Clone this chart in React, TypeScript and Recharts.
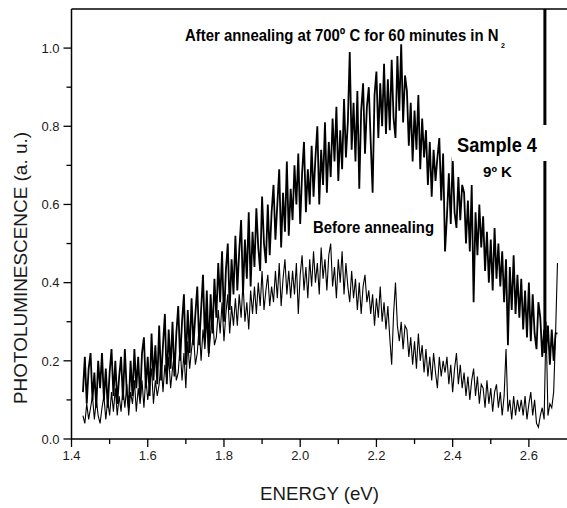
import React from 'react'
import { LineChart, Line, XAxis, YAxis, ReferenceLine } from 'recharts'

// measurement grid (eV)
const energy = [
  1.430, 1.435, 1.440, 1.445, 1.450, 1.455, 1.460, 1.465, 1.470, 1.475,
  1.480, 1.485, 1.490, 1.495, 1.500, 1.505, 1.510, 1.515, 1.520, 1.525,
  1.530, 1.535, 1.540, 1.545, 1.550, 1.555, 1.560, 1.565, 1.570, 1.575,
  1.580, 1.585, 1.590, 1.595, 1.600, 1.605, 1.610, 1.615, 1.620, 1.625,
  1.630, 1.635, 1.640, 1.645, 1.650, 1.655, 1.660, 1.665, 1.670, 1.675,
  1.680, 1.685, 1.690, 1.695, 1.700, 1.705, 1.710, 1.715, 1.720, 1.725,
  1.730, 1.735, 1.740, 1.745, 1.750, 1.755, 1.760, 1.765, 1.770, 1.775,
  1.780, 1.785, 1.790, 1.795, 1.800, 1.805, 1.810, 1.815, 1.820, 1.825,
  1.830, 1.835, 1.840, 1.845, 1.850, 1.855, 1.860, 1.865, 1.870, 1.875,
  1.880, 1.885, 1.890, 1.895, 1.900, 1.905, 1.910, 1.915, 1.920, 1.925,
  1.930, 1.935, 1.940, 1.945, 1.950, 1.955, 1.960, 1.965, 1.970, 1.975,
  1.980, 1.985, 1.990, 1.995, 2.000, 2.005, 2.010, 2.015, 2.020, 2.025,
  2.030, 2.035, 2.040, 2.045, 2.050, 2.055, 2.060, 2.065, 2.070, 2.075,
  2.080, 2.085, 2.090, 2.095, 2.100, 2.105, 2.110, 2.115, 2.120, 2.125,
  2.130, 2.135, 2.140, 2.145, 2.150, 2.155, 2.160, 2.165, 2.170, 2.175,
  2.180, 2.185, 2.190, 2.195, 2.200, 2.205, 2.210, 2.215, 2.220, 2.225,
  2.230, 2.235, 2.240, 2.245, 2.250, 2.255, 2.260, 2.265, 2.270, 2.275,
  2.280, 2.285, 2.290, 2.295, 2.300, 2.305, 2.310, 2.315, 2.320, 2.325,
  2.330, 2.335, 2.340, 2.345, 2.350, 2.355, 2.360, 2.365, 2.370, 2.375,
  2.380, 2.385, 2.390, 2.395, 2.400, 2.405, 2.410, 2.415, 2.420, 2.425,
  2.430, 2.435, 2.440, 2.445, 2.450, 2.455, 2.460, 2.465, 2.470, 2.475,
  2.480, 2.485, 2.490, 2.495, 2.500, 2.505, 2.510, 2.515, 2.520, 2.525,
  2.530, 2.535, 2.540, 2.545, 2.550, 2.555, 2.560, 2.565, 2.570, 2.575,
  2.580, 2.585, 2.590, 2.595, 2.600, 2.605, 2.610, 2.615, 2.620, 2.625,
  2.630, 2.635, 2.640, 2.645, 2.650, 2.655, 2.660, 2.665, 2.670, 2.675,
]

// after annealing at 700 C, 60 min in N2
const afterAnnealing = [
  0.12, 0.21, 0.09, 0.18, 0.22, 0.10, 0.17, 0.08, 0.20, 0.13,
  0.22, 0.10, 0.18, 0.08, 0.17, 0.23, 0.11, 0.20, 0.09, 0.16,
  0.21, 0.10, 0.23, 0.12, 0.08, 0.20, 0.11, 0.23, 0.13, 0.21,
  0.10, 0.22, 0.26, 0.13, 0.21, 0.11, 0.27, 0.15, 0.24, 0.14,
  0.29, 0.15, 0.24, 0.32, 0.14, 0.28, 0.18, 0.30, 0.16, 0.27,
  0.34, 0.20, 0.30, 0.37, 0.19, 0.33, 0.22, 0.36, 0.24, 0.32,
  0.39, 0.24, 0.33, 0.42, 0.25, 0.38, 0.22, 0.37, 0.27, 0.41,
  0.31, 0.45, 0.35, 0.48, 0.30, 0.43, 0.50, 0.33, 0.46, 0.37,
  0.52, 0.38, 0.48, 0.56, 0.37, 0.51, 0.41, 0.58, 0.39, 0.53,
  0.44, 0.59, 0.49, 0.43, 0.62, 0.50, 0.45, 0.60, 0.47, 0.58,
  0.65, 0.51, 0.60, 0.69, 0.49, 0.63, 0.53, 0.71, 0.52, 0.64,
  0.56, 0.70, 0.60, 0.73, 0.55, 0.68, 0.76, 0.58, 0.69, 0.60,
  0.75, 0.62, 0.72, 0.80, 0.60, 0.74, 0.65, 0.81, 0.63, 0.76,
  0.67, 0.82, 0.71, 0.85, 0.66, 0.79, 0.69, 0.87, 0.72, 0.81,
  0.99, 0.74, 0.86, 0.71, 0.89, 0.64, 0.84, 0.91, 0.73, 0.85,
  0.90, 0.76, 0.63, 0.88, 0.94, 0.77, 0.91, 0.80, 0.96, 0.78,
  0.92, 0.79, 0.97, 0.82, 0.77, 0.98, 0.84, 1.01, 0.81, 0.93,
  0.89, 0.75, 0.86, 0.71, 0.84, 0.74, 0.88, 0.69, 0.82, 0.72,
  0.79, 0.65, 0.76, 0.62, 0.74, 0.66, 0.72, 0.77, 0.61, 0.73,
  0.48, 0.57, 0.68, 0.55, 0.72, 0.58, 0.54, 0.67, 0.56, 0.65,
  0.63, 0.50, 0.61, 0.48, 0.65, 0.35, 0.58, 0.47, 0.60, 0.49,
  0.57, 0.43, 0.53, 0.40, 0.51, 0.38, 0.54, 0.41, 0.50, 0.39,
  0.48, 0.35, 0.46, 0.24, 0.44, 0.33, 0.47, 0.32, 0.42, 0.31,
  0.41, 0.28, 0.38, 0.26, 0.40, 0.25, 0.37, 0.27, 0.23, 0.35,
  0.31, 0.21, 0.28, 0.22, 0.29, 0.19, 0.28, 0.20, 0.27, 0.27,
]

const beforeAnnealing = [
  0.06, 0.04, 0.09, 0.05, 0.08, 0.11, 0.05, 0.10, 0.06, 0.04,
  0.08, 0.11, 0.05, 0.10, 0.06, 0.12, 0.07, 0.13, 0.06, 0.11,
  0.07, 0.13, 0.08, 0.14, 0.06, 0.12, 0.09, 0.15, 0.07, 0.13,
  0.09, 0.15, 0.08, 0.16, 0.10, 0.14, 0.18, 0.09, 0.15, 0.11,
  0.14, 0.20, 0.12, 0.19, 0.15, 0.21, 0.13, 0.18, 0.22, 0.15,
  0.17, 0.24, 0.15, 0.22, 0.13, 0.25, 0.18, 0.23, 0.27, 0.19,
  0.22, 0.29, 0.20, 0.28, 0.23, 0.31, 0.21, 0.27, 0.32, 0.24,
  0.26, 0.33, 0.27, 0.35, 0.25, 0.32, 0.37, 0.27, 0.34, 0.29,
  0.36, 0.29, 0.37, 0.31, 0.40, 0.30, 0.35, 0.28, 0.38, 0.32,
  0.39, 0.32, 0.40, 0.34, 0.43, 0.33, 0.38, 0.42, 0.34, 0.39,
  0.35, 0.43, 0.36, 0.45, 0.34, 0.41, 0.46, 0.37, 0.43, 0.36,
  0.43, 0.37, 0.45, 0.32, 0.42, 0.47, 0.38, 0.44, 0.36, 0.46,
  0.39, 0.48, 0.40, 0.45, 0.37, 0.49, 0.41, 0.46, 0.38, 0.47,
  0.50, 0.39, 0.44, 0.36, 0.46, 0.40, 0.48, 0.37, 0.45, 0.39,
  0.35, 0.43, 0.36, 0.41, 0.33, 0.40, 0.32, 0.39, 0.42, 0.35,
  0.38, 0.32, 0.37, 0.29, 0.36, 0.31, 0.39, 0.30, 0.35, 0.28,
  0.34, 0.26, 0.19, 0.32, 0.40, 0.29, 0.25, 0.30, 0.23, 0.29,
  0.28, 0.21, 0.26, 0.19, 0.25, 0.18, 0.27, 0.20, 0.24, 0.17,
  0.23, 0.16, 0.21, 0.15, 0.22, 0.17, 0.13, 0.21, 0.16, 0.20,
  0.17, 0.21, 0.14, 0.19, 0.12, 0.18, 0.22, 0.14, 0.19, 0.13,
  0.17, 0.11, 0.16, 0.10, 0.15, 0.18, 0.11, 0.16, 0.09, 0.14,
  0.13, 0.08, 0.15, 0.09, 0.13, 0.07, 0.12, 0.14, 0.08, 0.12,
  0.06, 0.11, 0.23, 0.07, 0.10, 0.05, 0.11, 0.06, 0.10, 0.07,
  0.10, 0.06, 0.11, 0.05, 0.09, 0.12, 0.06, 0.10, 0.04, 0.03,
  0.06, 0.08, 0.05, 0.30, 0.06, 0.09, 0.08, 0.12, 0.27, 0.45,
]

const xTicks = [1.4, 1.5, 1.6, 1.7, 1.8, 1.9, 2.0, 2.1, 2.2, 2.3, 2.4, 2.5, 2.6]
const yTicks = [0, 0.1, 0.2, 0.3, 0.4, 0.5, 0.6, 0.7, 0.8, 0.9, 1.0]

// the vertical marker line next to "Sample 4"
const markerEnergy = 2.642

const FONT = '"Liberation Sans", Arial, sans-serif'

const rows = energy.map((e, i) => ({ energy: e, after: afterAnnealing[i], before: beforeAnnealing[i] }))

const isMajor = (v: number) => Math.round(v * 10) % 2 === 0

function XTick(props: any) {
  const { x, y, payload } = props
  const major = isMajor(payload.value)
  return (
    <g>
      <line x1={x} x2={x} y1={y} y2={y + (major ? 8 : 5)} stroke="#000" strokeWidth={1.3} />
      {major && (
        <text x={x} y={y + 21} textAnchor="middle" fontSize={13} fontFamily={FONT} fill="#1a1a1a">
          {payload.value.toFixed(1)}
        </text>
      )}
    </g>
  )
}

function YTick(props: any) {
  const { x, y, payload } = props
  const major = isMajor(payload.value)
  return (
    <g>
      <line x1={x - (major ? 8 : 5)} x2={x} y1={y} y2={y} stroke="#000" strokeWidth={1.3} />
      {major && (
        <text x={x - 12} y={y + 4.7} textAnchor="end" fontSize={13} fontFamily={FONT} fill="#1a1a1a">
          {payload.value.toFixed(1)}
        </text>
      )}
    </g>
  )
}

export default function App() {
  return (
    <div style={{ position: 'absolute', left: 0, top: 0, width: 567, height: 508, background: '#fff' }}>
      <LineChart width={567} height={508} data={rows} margin={{ top: 9, right: 0, bottom: 0, left: 0 }}>
        <XAxis
          type="number"
          dataKey="energy"
          domain={[1.4, 2.7]}
          ticks={xTicks}
          interval={0}
          height={69}
          tickSize={0}
          tickMargin={0}
          tickLine={false}
          tick={<XTick />}
          axisLine={{ stroke: '#000', strokeWidth: 1.5 }}
          allowDataOverflow
        />
        <YAxis
          type="number"
          domain={[0, 1.1]}
          ticks={yTicks}
          interval={0}
          width={71.5}
          tickSize={0}
          tickMargin={0}
          tickLine={false}
          tick={<YTick />}
          axisLine={{ stroke: '#000', strokeWidth: 1.5 }}
          allowDataOverflow
        />
        <ReferenceLine y={1.1} stroke="#000" strokeWidth={1.5} />
        <Line
          type="linear"
          dataKey="before"
          stroke="#000"
          strokeWidth={1.1}
          dot={false}
          isAnimationActive={false}
        />
        <Line
          type="linear"
          dataKey="after"
          stroke="#000"
          strokeWidth={1.8}
          dot={false}
          isAnimationActive={false}
        />
        <ReferenceLine
          segment={[{ x: markerEnergy, y: 0.22 }, { x: markerEnergy, y: 1.1 }]}
          stroke="#000"
          strokeWidth={3}
        />
      </LineChart>
      <svg
        width={567}
        height={508}
        style={{ position: 'absolute', left: 0, top: 0, pointerEvents: 'none' }}
        fontFamily={FONT}
      >
        <text x={185} y={41} fontSize={17} fontWeight="bold" textLength={320} lengthAdjust="spacingAndGlyphs">
          After annealing at 700º C for 60 minutes in N
          <tspan fontSize={8} dx={3} dy={7}>2</tspan>
        </text>
        <rect x={452} y={125} width={100} height={36} fill="#fff" />
        <text x={457} y={152} fontSize={20} fontWeight="bold" textLength={80} lengthAdjust="spacingAndGlyphs">
          Sample 4
        </text>
        <text x={483} y={177} fontSize={14} fontWeight="bold" textLength={29} lengthAdjust="spacingAndGlyphs">
          9º K
        </text>
        <text x={313} y={233} fontSize={16} fontWeight="bold" textLength={121} lengthAdjust="spacingAndGlyphs">
          Before annealing
        </text>
        <text x={319.5} y={500} fontSize={18.5} textAnchor="middle" fill="#1a1a1a" textLength={119} lengthAdjust="spacingAndGlyphs">
          ENERGY (eV)
        </text>
        <text
          transform="translate(27 268) rotate(-90)"
          fontSize={18.5}
          textAnchor="middle"
          fill="#1a1a1a"
          textLength={272}
          lengthAdjust="spacingAndGlyphs"
        >
          PHOTOLUMINESCENCE (a. u.)
        </text>
      </svg>
    </div>
  )
}
